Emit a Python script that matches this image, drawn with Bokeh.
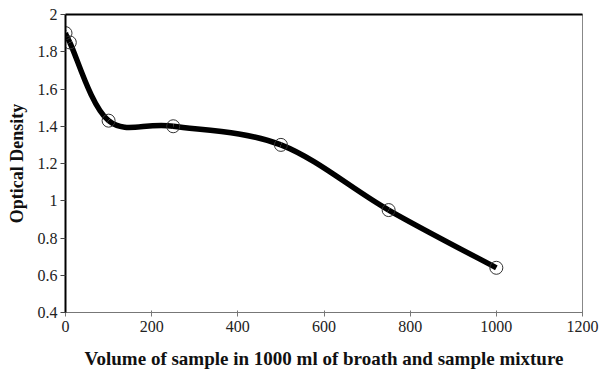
import numpy as np
from bokeh.plotting import figure
from bokeh.models import LinearAxis, FixedTicker, Range1d, CustomJSTickFormatter
from bokeh.embed import file_html
from bokeh.resources import INLINE

# Data
volume = [0, 10, 100, 250, 500, 750, 1000]
density = [1.90, 1.85, 1.43, 1.40, 1.30, 0.95, 0.64]
x_ticks = [0, 200, 400, 600, 800, 1000, 1200]
y_ticks = [0.4, 0.6, 0.8, 1.0, 1.2, 1.4, 1.6, 1.8, 2.0]

FONT = "Liberation Serif"

p = figure(width=601, height=371, output_backend="svg", toolbar_location=None,
           x_range=Range1d(0, 1200), y_range=Range1d(0.4, 2.0),
           min_border_left=65, min_border_right=19, min_border_top=14, min_border_bottom=58)
p.xgrid.visible = False
p.ygrid.visible = False
p.outline_line_color = "#888888"
p.outline_line_width = 1

# Smoothed line (Catmull-Rom style Bezier segments, like a spreadsheet "smoothed line")
xs = np.array(volume, dtype=float)
ys = np.array(density, dtype=float)
n = len(xs)
xp = np.concatenate([[xs[0]], xs, [xs[-1]]])
yp = np.concatenate([[ys[0]], ys, [ys[-1]]])
x0 = xs[:-1]; y0 = ys[:-1]; x1 = xs[1:]; y1 = ys[1:]
cx0 = xp[1:n] + (xp[2:n+1] - xp[0:n-1]) / 6.0
cy0 = yp[1:n] + (yp[2:n+1] - yp[0:n-1]) / 6.0
cx1 = xp[2:n+1] - (xp[3:n+2] - xp[1:n]) / 6.0
cy1 = yp[2:n+1] - (yp[3:n+2] - yp[1:n]) / 6.0
p.bezier(x0=x0, y0=y0, x1=x1, y1=y1, cx0=cx0, cy0=cy0, cx1=cx1, cy1=cy1,
         line_color="black", line_width=5.5)

p.scatter(volume, density, marker="circle", size=13, fill_color=None,
          line_color="#333333", line_width=1)

# Axes styling
p.xaxis.ticker = FixedTicker(ticks=x_ticks)
p.yaxis.ticker = FixedTicker(ticks=y_ticks)
p.yaxis.formatter = CustomJSTickFormatter(code="return (Math.round(tick*10)/10).toString();")

for ax in (p.xaxis[0], p.yaxis[0]):
    ax.major_label_text_font = FONT
    ax.major_label_text_font_size = "16px"
    ax.major_label_text_color = "#222222"
    ax.axis_label_text_font = FONT
    ax.axis_label_text_font_style = "bold"
    ax.axis_label_text_color = "#111111"
    ax.minor_tick_line_color = None

p.xaxis.axis_label = "Volume of sample in 1000 ml of broath and sample mixture"
p.yaxis.axis_label = "Optical Density"
p.xaxis.axis_label_text_font_size = "19px"
p.yaxis.axis_label_text_font_size = "18px"
p.xaxis.axis_line_color = "#777777"
p.xaxis.major_tick_line_color = "#777777"
p.xaxis.major_tick_in = 2
p.xaxis.major_tick_out = 4
p.xaxis.major_label_standoff = 4
p.xaxis.axis_label_standoff = 13

p.yaxis.axis_line_color = "black"
p.yaxis.axis_line_width = 2
p.yaxis.major_tick_line_color = "#444444"
p.yaxis.major_tick_in = 0
p.yaxis.major_tick_out = 5
p.yaxis.major_label_standoff = 3
p.yaxis.axis_label_standoff = 8

top = LinearAxis(ticker=FixedTicker(ticks=[]), axis_line_color="black", axis_line_width=2,
                 major_label_text_font_size="0px", minor_tick_line_color=None)
p.add_layout(top, "above")

open("out.html", "w").write(file_html(p, INLINE))
